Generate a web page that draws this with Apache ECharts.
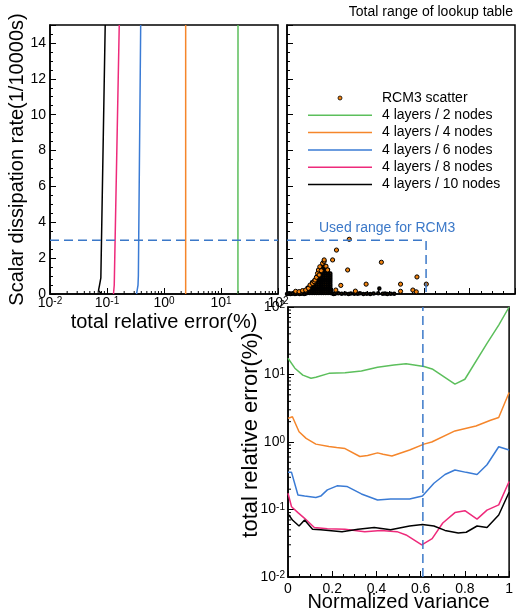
<!DOCTYPE html>
<html><head><meta charset="utf-8">
<script src="https://cdn.jsdelivr.net/npm/echarts@6/dist/echarts.min.js"></script>
<style>html,body{margin:0;padding:0;background:#fff}#c{width:516px;height:615px}</style>
</head><body><div id="c"></div>
<script>
// ---------- data ----------
const seriesNames = ['4 layers / 2 nodes','4 layers / 4 nodes','4 layers / 6 nodes','4 layers / 8 nodes','4 layers / 10 nodes'];
const scatterName = 'RCM3 scatter';
const colors = ['#5cbf5c','#f5862b','#3a7bd5','#ee2a7b','#000000'];

// top-left: [total relative error (%), scalar dissipation rate (1/10000s)]
const tl2  = [[19.8,0],[19.9,15]];
const tl4  = [[2.4,0],[2.4,15]];
const tl6  = [[0.33,0],[0.35,0.5],[0.355,1],[0.39,15]];
const tl8  = [[0.130,0],[0.134,0.5],[0.164,15]];
const tl10 = [[0.080,0],[0.071,0.2],[0.074,0.5],[0.078,0.9],[0.093,15]];

// bottom: [normalized variance, total relative error (%)]
const br2 = [[0,17.4],[0.031,12.4],[0.067,9.8],[0.104,8.8],[0.126,9.1],[0.185,10.4],[0.258,10.6],[0.332,11.3],[0.405,12.8],[0.479,13.8],[0.534,14.4],[0.615,13.1],[0.652,12.1],[0.755,7.2],[0.80,8.5],[0.90,29],[0.953,54],[1.0,100]];
const br4 = [[0,2.24],[0.02,2.37],[0.05,1.42],[0.082,1.13],[0.126,0.93],[0.185,0.86],[0.22,0.83],[0.258,0.8],[0.325,0.61],[0.36,0.63],[0.405,0.69],[0.43,0.66],[0.47,0.62],[0.55,0.76],[0.615,0.93],[0.65,1.0],[0.755,1.46],[0.85,1.73],[0.916,2.1],[0.953,2.3],[1.0,5.4]];
const br6 = [[0,0.355],[0.016,0.355],[0.045,0.164],[0.075,0.158],[0.126,0.151],[0.148,0.158],[0.178,0.195],[0.222,0.224],[0.266,0.22],[0.332,0.17],[0.405,0.138],[0.464,0.143],[0.55,0.143],[0.608,0.158],[0.66,0.245],[0.71,0.33],[0.755,0.385],[0.806,0.355],[0.855,0.33],[0.90,0.46],[0.953,0.85],[1.0,0.76]];
const br8 = [[0,0.174],[0.016,0.11],[0.045,0.09],[0.075,0.074],[0.119,0.054],[0.178,0.052],[0.258,0.051],[0.347,0.047],[0.42,0.049],[0.493,0.047],[0.534,0.042],[0.605,0.030],[0.652,0.037],[0.70,0.063],[0.755,0.09],[0.80,0.096],[0.855,0.072],[0.90,0.098],[0.953,0.117],[1.0,0.26]];
const br10 = [[0,0.086],[0.02,0.07],[0.05,0.057],[0.075,0.07],[0.111,0.051],[0.148,0.05],[0.244,0.047],[0.317,0.051],[0.39,0.054],[0.464,0.05],[0.55,0.057],[0.608,0.06],[0.66,0.057],[0.71,0.049],[0.77,0.045],[0.806,0.046],[0.855,0.057],[0.90,0.054],[0.953,0.083],[1.0,0.18]];

// RCM3 scatter: [normalized variance, scalar dissipation rate]
// dense core (columns of variance with their dissipation-rate samples)
const rcm3CoreX = [0.09, 0.10, 0.11, 0.12, 0.13, 0.14, 0.15, 0.16, 0.17, 0.18, 0.19];
const rcm3CoreY = [
  [0.05,0.15,0.25,0.35],
  [0.05,0.15,0.25,0.35,0.45],
  [0.05,0.15,0.25,0.35,0.45,0.55,0.65],
  [0.05,0.15,0.25,0.35,0.45,0.55,0.65,0.75],
  [0.05,0.15,0.25,0.35,0.45,0.55,0.65,0.75,0.85,0.95],
  [0.05,0.15,0.25,0.35,0.45,0.55,0.65,0.75,0.85,0.95,1.05,1.15],
  [0.05,0.15,0.25,0.35,0.45,0.55,0.65,0.75,0.85,0.95,1.05,1.15,1.25,1.35],
  [0.05,0.15,0.25,0.35,0.45,0.55,0.65,0.75,0.85,0.95,1.05,1.15,1.25,1.35,1.45,1.55,1.65],
  [0.05,0.15,0.25,0.35,0.45,0.55,0.65,0.75,0.85,0.95,1.05,1.15,1.25,1.35,1.45,1.55],
  [0.05,0.15,0.25,0.35,0.45,0.55,0.65,0.75,0.85,0.95,1.05,1.15,1.25,1.35],
  [0.05,0.15,0.25,0.35,0.45,0.55,0.65,0.75,0.85,0.95,1.05,1.15]
];
const rcm3Base = [[0,0.0],[0.01,0.04],[0.02,0.01],[0.03,0.05],[0.04,0.02],[0.05,0.04],[0.06,0.01],[0.07,0.05],[0.08,0.02],[0.085,0.08],[0.005,0.02],[0.015,0.0],[0.025,0.03],[0.035,0.0],[0.045,0.06],[0.055,0.0],[0.065,0.03],[0.075,0.0],
  [0.2,0.03],[0.205,0.0],[0.21,0.02],[0.225,0.04],[0.24,0.01],[0.255,0.03],[0.27,0.0],[0.28,0.03],[0.295,0.01],[0.31,0.02],[0.32,0.04],[0.335,0.0],[0.35,0.02],[0.365,0.0],[0.38,0.03],[0.40,0.04],[0.405,0.3],[0.42,0.01],[0.43,0.03],[0.44,0.0],[0.455,0.02],[0.47,0.01]];
const rcm3Edge = [[0.038,0.15],[0.053,0.13],[0.068,0.19],[0.082,0.22],[0.094,0.32],[0.101,0.5],[0.112,0.59],[0.119,0.69],[0.123,0.78],[0.129,0.93],[0.134,1.15],[0.141,1.06],[0.138,1.34],[0.15,1.30],[0.144,1.52],[0.156,1.71],[0.163,1.82],[0.171,1.55],[0.178,1.34]];
const rcm3Outliers = [[0.273,3.05],[0.217,2.45],[0.163,1.9],[0.2,1.9],[0.266,1.34],[0.414,1.77],[0.57,0.95],[0.236,0.48],[0.347,0.55],[0.498,0.55],[0.611,0.55],[0.552,0.22],[0.567,0.12],[0.498,0.15],[0.30,0.16],[0.214,0.22]];

// used range of RCM3
const usedVariance = 0.61;
const usedChi = 3;

// minor ticks on the log axes
const logMinorTicks = [0.02,0.03,0.04,0.05,0.06,0.07,0.08,0.09,0.2,0.3,0.4,0.5,0.6,0.7,0.8,0.9,2,3,4,5,6,7,8,9,20,30,40,50,60,70,80,90];

// ---------- chart ----------
const FONT = "'Liberation Sans', Arial, sans-serif";
const dashColor = '#3b78c8';
const markerFill = '#f0820f';
const supFmt = v => '{b|10}{s|' + Math.round(Math.log10(v)) + '}';
const supRich = {
  b: {fontSize: 14, lineHeight: 14, verticalAlign: 'bottom', color: '#000', fontFamily: FONT},
  s: {fontSize: 10, lineHeight: 10, verticalAlign: 'top', padding: [0,0,8,0], color: '#000', fontFamily: FONT}
};
const axLine = {show: true, onZero: false, lineStyle: {color: '#000', width: 1.5}};
const tick = {show: true, inside: true, length: 6, lineStyle: {color: '#000', width: 1}};
const minor = {show: true, splitNumber: 4, length: 3, lineStyle: {color: '#000', width: 1}};
const noSplit = {show: false};

const chart = echarts.init(document.getElementById('c'), null, {renderer: 'canvas'});

function lineSeries(name, data, color, xi, yi) {
  return {type: 'line', name, data, xAxisIndex: xi, yAxisIndex: yi, symbol: 'none', showSymbol: false,
    lineStyle: {color, width: 1.5}, itemStyle: {color}, animation: false, z: 3, clip: true};
}
function dashSeries(data, xi, yi) {
  return {type: 'line', data, xAxisIndex: xi, yAxisIndex: yi, symbol: 'none', showSymbol: false,
    lineStyle: {color: dashColor, width: 1.5, type: [9, 5]}, animation: false, silent: true, z: 4, clip: false};
}

const tlData = [tl2, tl4, tl6, tl8, tl10];
const brData = [br2, br4, br6, br8, br10];
const coreData = [];
rcm3CoreX.forEach((x, i) => rcm3CoreY[i].forEach(y => coreData.push([x, y])));

const series = [];
series.push({
  type: 'scatter', name: scatterName, xAxisIndex: 1, yAxisIndex: 1,
  data: rcm3Edge.concat(rcm3Outliers),
  symbol: 'circle', symbolSize: 4.2,
  itemStyle: {color: markerFill, borderColor: '#000', borderWidth: 1, opacity: 1},
  animation: false, z: 3
});
series.push({
  type: 'scatter', name: scatterName, xAxisIndex: 1, yAxisIndex: 1,
  data: coreData.concat(rcm3Base),
  symbol: 'circle', symbolSize: 2.5,
  itemStyle: {color: markerFill, borderColor: '#000', borderWidth: 2, opacity: 1},
  animation: false, z: 2, clip: false
});
tlData.forEach((d, i) => series.push(lineSeries(seriesNames[i], d, colors[i], 0, 0)));
series.push(dashSeries([[0.01, usedChi], [100, usedChi]], 0, 0));
series.push(dashSeries([[0, usedChi], [usedVariance, usedChi], [usedVariance, 0]], 1, 1));
brData.forEach((d, i) => series.push(lineSeries(seriesNames[i], d, colors[i], 2, 2)));
series.push(dashSeries([[usedVariance, 0.01], [usedVariance, 100]], 2, 2));
// minor ticks for log axes
series.push({
  type: 'custom', xAxisIndex: 0, yAxisIndex: 0, silent: true, clip: false, animation: false, z: 5,
  data: logMinorTicks.map(v => [v, 0]),
  renderItem: (p, api) => {
    const c = api.coord([api.value(0), 0]);
    return {type: 'line', shape: {x1: c[0], y1: c[1], x2: c[0], y2: c[1] - 3}, style: {stroke: '#000', lineWidth: 1}};
  }
});
series.push({
  type: 'custom', xAxisIndex: 2, yAxisIndex: 2, silent: true, clip: false, animation: false, z: 5,
  data: logMinorTicks.map(v => [0, v]),
  renderItem: (p, api) => {
    const c = api.coord([0, api.value(1)]);
    return {type: 'line', shape: {x1: c[0], y1: c[1], x2: c[0] + 3, y2: c[1]}, style: {stroke: '#000', lineWidth: 1}};
  }
});

const linePath = 'path://M0,0L64,0L64,1.5L0,1.5Z';
const legendData = [{name: scatterName, icon: 'circle', itemStyle: {borderWidth: 0.8, borderColor: '#000', color: markerFill}}]
  .concat(seriesNames.map(n => ({name: n, icon: linePath})));

const option = {
  animation: false,
  backgroundColor: '#fff',
  textStyle: {fontFamily: FONT, color: '#000'},
  grid: [
    {left: 50, top: 25, width: 228, height: 269, show: true, borderColor: '#000', borderWidth: 1.5, backgroundColor: 'transparent'},
    {left: 287, top: 25, width: 228, height: 269, show: true, borderColor: '#000', borderWidth: 1.5, backgroundColor: 'transparent'},
    {left: 288, top: 307, width: 227, height: 270, show: true, borderColor: '#000', borderWidth: 1.5, backgroundColor: 'transparent'}
  ],
  xAxis: [
    {gridIndex: 0, type: 'log', logBase: 10, min: 0.01, max: 100, splitNumber: 4,
     axisLine: axLine, axisTick: tick, minorTick: {show: false}, splitLine: noSplit, minorSplitLine: noSplit,
     axisLabel: {margin: 2, formatter: supFmt, rich: supRich, hideOverlap: false, showMinLabel: true, showMaxLabel: true},
     name: 'total relative error(%)', nameLocation: 'middle', nameGap: 18, nameMoveOverlap: false,
     nameTextStyle: {fontSize: 20, color: '#000', fontFamily: FONT}},
    {gridIndex: 1, type: 'value', min: 0, max: 1, interval: 0.2,
     axisLine: axLine, axisTick: tick, minorTick: minor, splitLine: noSplit, minorSplitLine: noSplit,
     axisLabel: {show: false}},
    {gridIndex: 2, type: 'value', min: 0, max: 1, interval: 0.2,
     axisLine: axLine, axisTick: tick, minorTick: minor, splitLine: noSplit, minorSplitLine: noSplit,
     axisLabel: {margin: 5, fontSize: 14, color: '#000', fontFamily: FONT, hideOverlap: false, showMinLabel: true, showMaxLabel: true},
     name: 'Normalized variance', nameLocation: 'middle', nameGap: 15, nameMoveOverlap: false,
     nameTextStyle: {fontSize: 20, color: '#000', fontFamily: FONT}}
  ],
  yAxis: [
    {gridIndex: 0, type: 'value', min: 0, max: 15, interval: 2,
     axisLine: axLine, axisTick: tick, minorTick: minor, splitLine: noSplit, minorSplitLine: noSplit,
     axisLabel: {margin: 4, fontSize: 14, color: '#000', fontFamily: FONT, showMaxLabel: false},
     name: 'Scalar dissipation rate(1/10000s)', nameLocation: 'middle', nameGap: 23, nameMoveOverlap: false,
     nameTextStyle: {fontSize: 20, color: '#000', fontFamily: FONT}},
    {gridIndex: 1, type: 'value', min: 0, max: 15, interval: 2,
     axisLine: axLine, axisTick: tick, minorTick: minor, splitLine: noSplit, minorSplitLine: noSplit,
     axisLabel: {show: false}},
    {gridIndex: 2, type: 'log', logBase: 10, min: 0.01, max: 100, splitNumber: 4,
     axisLine: axLine, axisTick: tick, minorTick: {show: false}, splitLine: noSplit, minorSplitLine: noSplit,
     axisLabel: {margin: 3, formatter: supFmt, rich: supRich, hideOverlap: false, showMinLabel: true, showMaxLabel: true},
     name: 'total relative error(%)', nameLocation: 'middle', nameGap: 26, nameMoveOverlap: false,
     nameTextStyle: {fontSize: 22, color: '#000', fontFamily: FONT, padding: [0, 0, 0, 14]}}
  ],
  legend: {
    data: legendData,
    orient: 'vertical', left: 308, top: 91, itemWidth: 64, itemHeight: 4, itemGap: 3.3,
    selectedMode: false, padding: 0,
    textStyle: {fontSize: 14, color: '#000', fontFamily: FONT, lineHeight: 14, padding: [0, 0, 0, 5]}
  },
  graphic: [
    {type: 'text', right: 3, top: 5, style: {text: 'Total range of lookup table', fontSize: 14, fontFamily: FONT, fill: '#000'}},
    {type: 'text', left: 319, top: 221, style: {text: 'Used range for RCM3', fontSize: 14, fontFamily: FONT, fill: dashColor}}
  ],
  series
};
chart.setOption(option);
</script>
</body></html>
